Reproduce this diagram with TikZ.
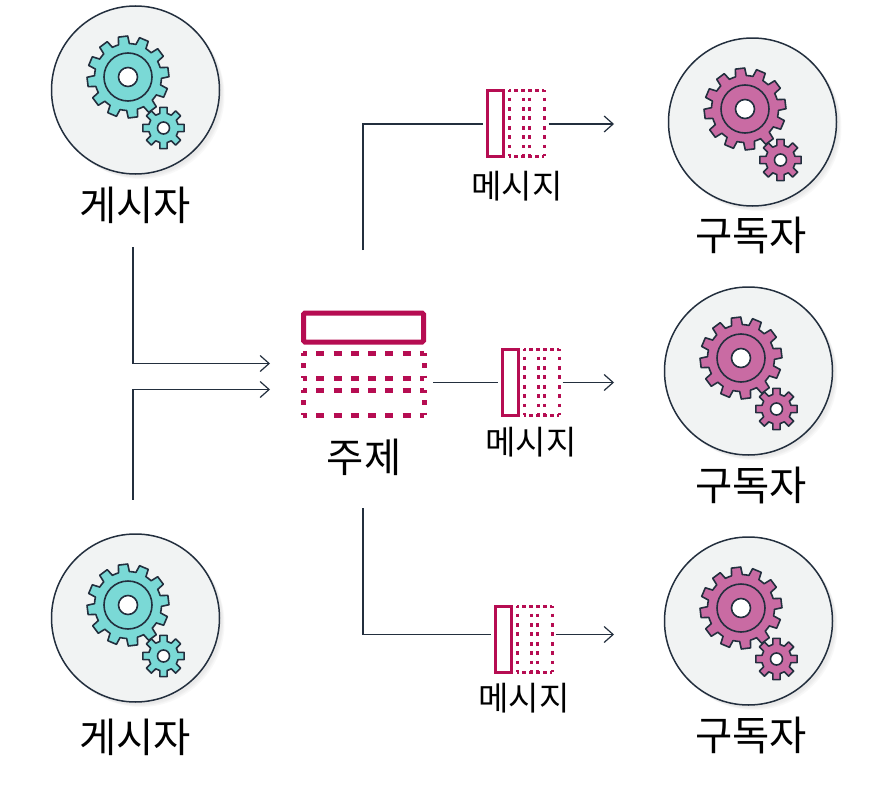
\documentclass[tikz,border=0pt]{standalone}
\usepackage{fontspec}
\setmainfont{Noto Sans CJK KR}[BoldFont={Noto Sans CJK KR}]
\usetikzlibrary{arrows.meta}
\definecolor{ink}{HTML}{232F3E}
\definecolor{disc}{HTML}{F1F3F3}
\definecolor{tealgear}{HTML}{7AD9D6}
\definecolor{pinkgear}{HTML}{C96BA3}
\definecolor{mag}{HTML}{B60D52}
\newcommand{\gearshape}[7]{% cx cy n rootR tipR rot fill
  \begin{scope}[shift={(#1,#2)},rotate=#6]
    \pgfmathsetmacro{\stp}{360/#3}
    \pgfmathsetmacro{\wa}{\stp*0.31}
    \pgfmathsetmacro{\wb}{\stp*0.22}
    \draw[gearline,fill=#7] ({-\wa}:#4)
      \foreach \k in {1,...,#3}{
        -- ({(\k-1)*\stp-\wa}:#4) -- ({(\k-1)*\stp-\wb}:#5) -- ({(\k-1)*\stp+\wb}:#5) -- ({(\k-1)*\stp+\wa}:#4)
        arc[start angle={(\k-1)*\stp+\wa}, end angle={\k*\stp-\wa}, radius=#4]
      } -- cycle;
  \end{scope}}
\newcommand{\actorset}[4]{% name cx cy fill
  \foreach \ofs/\rad/\alp in {6/83/0.012,5/84/0.015,4/84/0.02,3/84.5/0.02,2/84.5/0.02}{
    \fill[black,opacity=\alp] (#2+\ofs,#3+\ofs) circle[radius=\rad];}
  \node[actordisc] (#1) at (#2,#3) {};
  \gearshape{#2-7.5}{#3-13}{12}{33.5}{41}{7}{#4}
  \draw[gearline,fill=white] (#2-7.5,#3-13) circle[radius=9.5];
  \draw[gearline] (#2-7.5,#3-13) circle[radius=24];
  \gearshape{#2+28}{#3+38}{8}{15}{21}{0}{#4}
  \draw[gearline,fill=white] (#2+28,#3+38) circle[radius=6];
}
\newcommand{\msgicon}[3]{% name left top
  \begin{scope}[shift={(#2,#3)}]
    \foreach \xx in {22,36,42,57}{\draw[msgdotsv] (\xx,0) -- (\xx,66);}
    \draw[msgdotsh] (22,0) -- (57,0);
    \draw[msgdotsh] (22,66) -- (57,66);
    \node[msgsolid] (#1) at (8,33) {};
  \end{scope}}
\tikzset{
  gearline/.style={draw=ink,line width=1.6pt,line join=round},
  actordisc/.style={circle,draw=ink,line width=1.5pt,fill=disc,minimum size=168pt,inner sep=0pt},
  wire/.style={draw=ink,line width=1.3pt,-{Straight Barb[length=9pt,width=16pt,line width=1.2pt]}},
  plainwire/.style={draw=ink,line width=1.3pt},
  msgsolid/.style={rectangle,draw=mag,fill=white,line width=3pt,minimum width=16pt,minimum height=66pt,inner sep=0pt},
  msgdotsv/.style={draw=mag,line width=3pt,dash pattern=on 3.6pt off 5.83pt,dash phase=1.8pt},
  msgdotsh/.style={draw=mag,line width=3pt,dash pattern=on 3.2pt off 3.8pt,dash phase=1.6pt},
  topicsolid/.style={rectangle,rounded corners=1.5pt,draw=mag,line width=5pt,minimum width=120pt,minimum height=29pt,inner sep=0pt},
  topicdashh/.style={draw=mag,line width=5pt,dash pattern=on 8pt off 9.28pt,dash phase=4pt},
  topicdashv/.style={draw=mag,line width=5pt,dash pattern=on 5pt off 7.5pt,dash phase=2.5pt},
  biglabel/.style={font=\fontsize{40.5}{40.5}\selectfont,text=black,inner sep=0pt},
  msglabel/.style={font=\fontsize{33}{33}\selectfont,text=black,inner sep=0pt},
}
\begin{document}
\begin{tikzpicture}[x=1pt,y=-1pt]
\useasboundingbox (0,0) rectangle (887,787);
\fill[white] (0,0) rectangle (887,787);

% actors
\actorset{pubA}{135.5}{90}{tealgear}
\actorset{pubB}{135.5}{618}{tealgear}
\actorset{subA}{752.5}{122}{pinkgear}
\actorset{subB}{748.5}{371}{pinkgear}
\actorset{subC}{748.5}{621}{pinkgear}

% labels
\node[biglabel] (pubAl) at (135,205) {게시자};
\node[biglabel] (pubBl) at (135,737) {게시자};
\node[biglabel] (subAl) at (751,235) {구독자};
\node[biglabel] (subBl) at (751,485) {구독자};
\node[biglabel] (subCl) at (751,735) {구독자};
\node[biglabel] (topicl) at (364,457) {주제};
\node[msglabel] (msgAl) at (517,186) {메시지};
\node[msglabel] (msgBl) at (531,442) {메시지};
\node[msglabel] (msgCl) at (524,698) {메시지};

% topic
\foreach \yy in {353,378,390,415}{\draw[topicdashh] (303,\yy) -- (424,\yy);}
\foreach \yy in {353,390}{
  \draw[topicdashv] (303,\yy) -- (303,\yy+25);
  \draw[topicdashv] (424,\yy) -- (424,\yy+25);
}
\node[topicsolid] (topic) at (363.5,327.5) {};

% messages
\msgicon{msgA}{487}{90}
\msgicon{msgB}{502}{349}
\msgicon{msgC}{495}{606}

% free ends
\coordinate (pubAout) at (133,247);
\coordinate (pubBout) at (133,499.5);
\coordinate (inA) at (270,363.5);
\coordinate (inB) at (270,389.5);
\coordinate (topicUp) at (363,250);
\coordinate (topicRight) at (433,382.5);
\coordinate (topicDown) at (363,508);
\coordinate (arrA) at (614,124);
\coordinate (arrB) at (614,382.5);
\coordinate (arrC) at (614,634.5);

% connectors
\draw[wire] (pubAout) |- (inA);
\draw[wire] (pubBout) |- (inB);
\draw[plainwire,shorten >=2.5pt] (topicUp) |- (msgA.west |- arrA);
\draw[plainwire,shorten >=2.5pt] (topicRight) -- (msgB.west |- arrB);
\draw[plainwire,shorten >=2.5pt] (topicDown) |- (msgC.west |- arrC);
\draw[wire] ([xshift=44pt]msgA.east |- arrA) -- (arrA);
\draw[wire] ([xshift=43pt]msgB.east |- arrB) -- (arrB);
\draw[wire] ([xshift=43pt]msgC.east |- arrC) -- (arrC);
\end{tikzpicture}
\end{document}
